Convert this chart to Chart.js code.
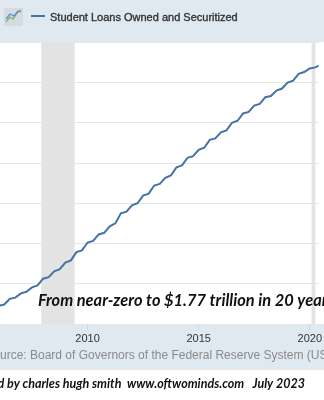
<!DOCTYPE html>
<html>
<head>
<meta charset="utf-8">
<script src="https://cdn.jsdelivr.net/npm/chart.js@4/dist/chart.umd.min.js"></script>
<style>
  html, body { margin: 0; padding: 0; background: #fff; }
  canvas { display: block; }
</style>
</head>
<body>
<canvas id="loansChart" width="324" height="400"></canvas>
<script>
// Student Loans Owned and Securitized, billions of dollars, one value per quarter from 2006 Q1
const loans = [
  490, 497, 525, 531,      // 2006
  552, 560, 582, 592,      // 2007
  625, 633, 662, 672,      // 2008
  705, 716, 757, 766,      // 2009
  805, 813, 845, 853,      // 2010
  885, 900, 950, 958,      // 2011
  990, 1000, 1038, 1048,   // 2012
  1088, 1096, 1126, 1138,  // 2013
  1178, 1188, 1226, 1234,  // 2014
  1265, 1276, 1315, 1322,  // 2015
  1352, 1362, 1400, 1410,  // 2016
  1446, 1454, 1485, 1494,  // 2017
  1527, 1533, 1560, 1570,  // 2018
  1600, 1609, 1643, 1652,  // 2019
  1670, 1675, 1688, 1700   // 2020
];
const firstYear = 2006;

// NBER recessions (shaded)
const recessionStart = ['2007-12-01', '2020-02-01'];
const recessionEnd = ['2009-06-01', '2020-04-01'];

const yearTicks = [2010, 2015, 2020];

const lineColor = '#4572a7';
const bandColor = '#e1e9f0';

function toYear(dateStr) {
  const [y, m] = dateStr.split('-').map(Number);
  return y + (m - 1) / 12;
}

const points = loans.map((v, i) => ({ x: firstYear + i / 4, y: v }));

const framePlugin = {
  id: 'frame',
  beforeDraw(chart) {
    const { ctx, width, height, chartArea } = chart;
    ctx.save();
    ctx.fillStyle = '#ffffff';
    ctx.fillRect(0, 0, width, height);
    // axis / source band under the plot
    ctx.fillStyle = bandColor;
    ctx.fillRect(0, chartArea.bottom, width, 370 - chartArea.bottom);
    ctx.restore();
  },
  beforeDatasetsDraw(chart) {
    const { ctx, chartArea } = chart;
    const xs = chart.scales.x;
    ctx.save();
    ctx.fillStyle = '#e3e3e3';
    recessionStart.forEach((s, i) => {
      const x0 = xs.getPixelForValue(toYear(s));
      const x1 = xs.getPixelForValue(toYear(recessionEnd[i]));
      ctx.fillRect(x0, chartArea.top, Math.max(x1 - x0, 2), chartArea.bottom - chartArea.top);
    });
    ctx.restore();
  },
  afterDraw(chart) {
    const { ctx, width } = chart;
    ctx.save();

    // header strip with legend
    ctx.fillStyle = bandColor;
    ctx.fillRect(0, 0, width, 42);

    // little graph icon
    ctx.fillStyle = '#d5dbe1';
    ctx.fillRect(4, 8, 19, 18);
    ctx.lineWidth = 1.3;
    ctx.strokeStyle = '#7fb069';
    ctx.beginPath();
    ctx.moveTo(6, 22); ctx.lineTo(10, 17); ctx.lineTo(13, 19); ctx.lineTo(17, 13); ctx.lineTo(21, 10);
    ctx.stroke();
    ctx.strokeStyle = '#5f8fd1';
    ctx.beginPath();
    ctx.moveTo(6, 19); ctx.lineTo(10, 14); ctx.lineTo(14, 16); ctx.lineTo(18, 11); ctx.lineTo(21, 12);
    ctx.stroke();

    ctx.strokeStyle = lineColor;
    ctx.lineWidth = 2;
    ctx.beginPath();
    ctx.moveTo(31, 16);
    ctx.lineTo(45, 16);
    ctx.stroke();

    // legend label, lightly stroked to get a medium weight
    ctx.fillStyle = '#333333';
    ctx.strokeStyle = '#333333';
    ctx.lineWidth = 0.35;
    ctx.font = '11px "Liberation Sans", Arial, sans-serif';
    ctx.textBaseline = 'alphabetic';
    ctx.fillText('Student Loans Owned and Securitized', 50, 21);
    ctx.strokeText('Student Loans Owned and Securitized', 50, 21);

    // annotation over the plot
    ctx.fillStyle = '#111111';
    ctx.font = 'italic bold 16.4px Lato, sans-serif';
    ctx.fillText('From near-zero to $1.77 trillion in 20 years', 38, 306);

    // source line, left part runs off the edge
    ctx.fillStyle = '#8a8a8a';
    ctx.font = '12px "Liberation Sans", Arial, sans-serif';
    const lead = ctx.measureText('So').width;
    ctx.fillText('Source: Board of Governors of the Federal Reserve System (US)', -lead, 359);

    // credit line
    ctx.fillStyle = '#111111';
    ctx.font = 'italic bold 12.5px Lato, sans-serif';
    ctx.textAlign = 'right';
    ctx.fillText('chart annotated by charles hugh smith  www.oftwominds.com   July 2023', 305, 388);

    ctx.restore();
  }
};

new Chart(document.getElementById('loansChart').getContext('2d'), {
  type: 'line',
  data: {
    datasets: [{
      label: 'Student Loans Owned and Securitized',
      data: points,
      borderColor: lineColor,
      borderWidth: 2,
      pointRadius: 0,
      tension: 0,
      fill: false
    }]
  },
  options: {
    responsive: false,
    animation: false,
    events: [],
    layout: { padding: { top: 2, left: 0, right: 0, bottom: 0 } },
    scales: {
      x: {
        type: 'linear',
        min: 2006.06,
        max: 2020.40,
        afterBuildTicks: (scale) => { scale.ticks = yearTicks.map(v => ({ value: v })); },
        afterFit: (axis) => { axis.height = 76; },
        ticks: {
          autoSkip: false,
          maxRotation: 0,
          padding: 2,
          color: '#333333',
          font: { family: '"Liberation Sans", Arial, sans-serif', size: 11 },
          callback: (v) => String(v)
        },
        grid: { drawOnChartArea: false, drawTicks: true, tickLength: 6, color: '#ccd6eb' },
        border: { display: false }
      },
      y: {
        min: 400,
        max: 2000,
        afterFit: (axis) => { axis.width = 0; },
        ticks: { display: false, stepSize: 200 },
        grid: { color: '#e6e6e6', drawTicks: false },
        border: { display: false }
      }
    },
    plugins: {
      legend: { display: false },
      tooltip: { enabled: false }
    }
  },
  plugins: [framePlugin]
});
</script>
</body>
</html>
